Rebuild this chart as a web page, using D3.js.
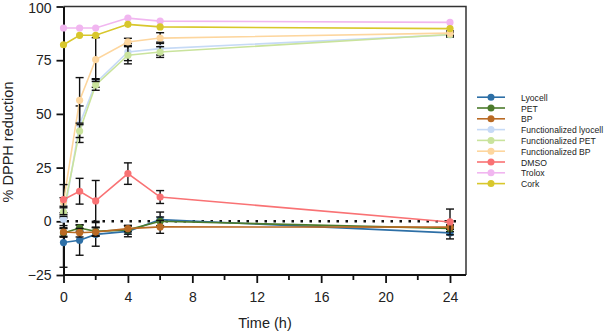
<!DOCTYPE html>
<html>
<head>
<meta charset="utf-8">
<script src="https://cdn.jsdelivr.net/npm/d3@7"></script>
<style>
  html, body { margin: 0; padding: 0; background: #fff; }
  svg { display: block; font-family: "Liberation Sans", Arial, sans-serif; }
</style>
</head>
<body>
<svg id="chart" width="605" height="334"></svg>
<script>
const times = [0, 1, 2, 4, 6, 24];
const seriesNames = ["Lyocell", "PET", "BP", "Functionalized lyocell", "Functionalized PET", "Functionalized BP", "DMSO", "Trolox", "Cork"];
const seriesColors = ["#2d6fa6", "#4c7b2c", "#b96a24", "#c6daf6", "#c9e39c", "#fdd69e", "#f97274", "#f1b6f0", "#d8c72c"];

const lyocell      = [-9.9, -8.8, -6.1, -4.7, 0.8, -5.4];
const pet          = [-5.4, -3.1, -4.7, -4.0, 0.0, -3.3];
const bp           = [-5.0, -5.3, -5.0, -3.4, -2.6, -2.7];
const funcLyocell  = [1.0, 45.2, 64.4, 78.8, 80.4, 86.8];
const funcPet      = [4.3, 42.0, 63.5, 77.3, 78.8, 87.0];
const funcBp       = [9.0, 56.3, 75.3, 83.5, 85.3, 87.6];
const dmso         = [10.1, 14.0, 9.5, 22.2, 11.3, -0.3];
const trolox       = [90.0, 90.0, 90.0, 94.6, 93.2, 92.6];
const cork         = [82.2, 86.6, 86.6, 91.7, 90.5, 89.7];

const lyocellErr     = [11.5, 7.0, 5.5, 2.5, 3.5, 2.8];
const petErr         = [2.0, 1.5, 2.0, 2.0, 2.0, 1.5];
const bpErr          = [2.0, 2.0, 2.0, 1.5, 3.0, 1.0];
const funcLyocellErr = [3.0, 8.5, 2.0, 4.0, 3.0, 1.0];
const funcPetErr     = [2.0, 3.0, 2.5, 4.0, 2.5, 1.0];
const funcBpErr      = [2.0, 10.6, 10.2, 1.7, 2.5, 1.0];
const dmsoErr        = [7.0, 6.0, 9.5, 5.0, 3.0, 6.0];
const troloxErr      = [0.5, 0.5, 0.5, 0.5, 0.5, 0.5];
const corkErr        = [0.5, 0.5, 0.5, 0.5, 0.5, 0.5];

const xTicks = [0, 4, 8, 12, 16, 20, 24];
const xMinorTicks = [2, 6, 10, 14, 18, 22];
const yTicks = [-25, 0, 25, 50, 75, 100];

const allValues = [lyocell, pet, bp, funcLyocell, funcPet, funcBp, dmso, trolox, cork];
const allErrors = [lyocellErr, petErr, bpErr, funcLyocellErr, funcPetErr, funcBpErr, dmsoErr, troloxErr, corkErr];

const series = seriesNames.map((name, i) => ({
  name, color: seriesColors[i],
  points: times.map((t, j) => ({ t, v: allValues[i][j], e: allErrors[i][j] }))
}));

const svg = d3.select("#chart");
const x = d3.scaleLinear().domain([0, 24]).range([63.5, 450]);
const y = d3.scaleLinear().domain([-25, 100]).range([275, 6.5]);
const frameRight = 466;

// frame (top & right)
svg.append("path")
  .attr("d", `M${x(0)},${y(100)} H${frameRight} V${y(-25)}`)
  .attr("fill", "none").attr("stroke", "#333").attr("stroke-width", 1.5);

// zero dotted line
svg.append("line")
  .attr("x1", x(0) + 3).attr("x2", 458)
  .attr("y1", y(0)).attr("y2", y(0))
  .attr("stroke", "#111").attr("stroke-width", 2.5)
  .attr("stroke-dasharray", "2.5 6.5");

// X axis
const xAxis = svg.append("g").attr("transform", `translate(0,${y(-25)})`)
  .call(d3.axisBottom(x).tickValues(xTicks).tickSize(8).tickSizeOuter(0).tickPadding(9).tickFormat(d3.format("d")));
xAxis.select(".domain").attr("d", `M${x(0)},0H${frameRight}`).attr("stroke", "#111").attr("stroke-width", 2);
xAxis.selectAll(".tick line").attr("stroke", "#111").attr("stroke-width", 1.8);
xAxis.selectAll(".tick text").attr("font-size", 14).attr("fill", "#222")
  .attr("font-family", "'Liberation Sans', Arial, sans-serif");
svg.append("g").selectAll("line").data(xMinorTicks).join("line")
  .attr("x1", d => x(d)).attr("x2", d => x(d))
  .attr("y1", y(-25)).attr("y2", y(-25) + 5)
  .attr("stroke", "#111").attr("stroke-width", 1.8);

// Y axis
const yAxis = svg.append("g").attr("transform", `translate(${x(0)},0)`)
  .call(d3.axisLeft(y).tickValues(yTicks).tickSize(7).tickSizeOuter(0).tickPadding(5).tickFormat(d3.format("d")));
yAxis.select(".domain").attr("stroke", "#111").attr("stroke-width", 2);
yAxis.selectAll(".tick line").attr("stroke", "#111").attr("stroke-width", 1.8);
yAxis.selectAll(".tick text").attr("font-size", 14).attr("fill", "#222")
  .attr("font-family", "'Liberation Sans', Arial, sans-serif");
yAxis.selectAll(".tick").filter(d => d === 100).select("text").attr("dy", "0.42em");

// axis titles
svg.append("text")
  .attr("transform", `translate(13,142) rotate(-90)`)
  .attr("text-anchor", "middle").attr("font-size", 14.5).attr("fill", "#222")
  .text("% DPPH reduction");
svg.append("text")
  .attr("x", 265).attr("y", 328)
  .attr("text-anchor", "middle").attr("font-size", 14.5).attr("fill", "#222")
  .text("Time (h)");

// series
const line = d3.line().x(d => x(d.t)).y(d => y(d.v));
const plot = svg.append("g");
series.forEach(s => {
  const g = plot.append("g");
  g.append("path").datum(s.points).attr("d", line)
    .attr("fill", "none").attr("stroke", s.color).attr("stroke-width", 1.6);
  const eb = g.selectAll("g.eb").data(s.points.filter(p => p.e > 0.8)).join("g");
  eb.append("line")
    .attr("x1", d => x(d.t)).attr("x2", d => x(d.t))
    .attr("y1", d => y(d.v - d.e)).attr("y2", d => y(d.v + d.e))
    .attr("stroke", "#111").attr("stroke-width", 1.4);
  [-1, 1].forEach(sgn => {
    eb.append("line")
      .attr("x1", d => x(d.t) - 4).attr("x2", d => x(d.t) + 4)
      .attr("y1", d => y(d.v + sgn * d.e)).attr("y2", d => y(d.v + sgn * d.e))
      .attr("stroke", "#111").attr("stroke-width", 1.4);
  });
  g.selectAll("circle").data(s.points).join("circle")
    .attr("cx", d => x(d.t)).attr("cy", d => y(d.v)).attr("r", 3.6)
    .attr("fill", s.color);
});

// legend
const legend = svg.append("g");
seriesNames.forEach((name, i) => {
  const yy = 97.2 + i * 10.8;
  legend.append("line").attr("x1", 477).attr("x2", 505).attr("y1", yy).attr("y2", yy)
    .attr("stroke", seriesColors[i]).attr("stroke-width", 1.6);
  legend.append("circle").attr("cx", 491).attr("cy", yy).attr("r", 3.5).attr("fill", seriesColors[i]);
  legend.append("text")
    .attr("transform", `translate(521,${yy + 3.5}) scale(0.93,1)`)
    .attr("font-size", 9.3).attr("fill", "#222").text(name);
});
</script>
</body>
</html>
